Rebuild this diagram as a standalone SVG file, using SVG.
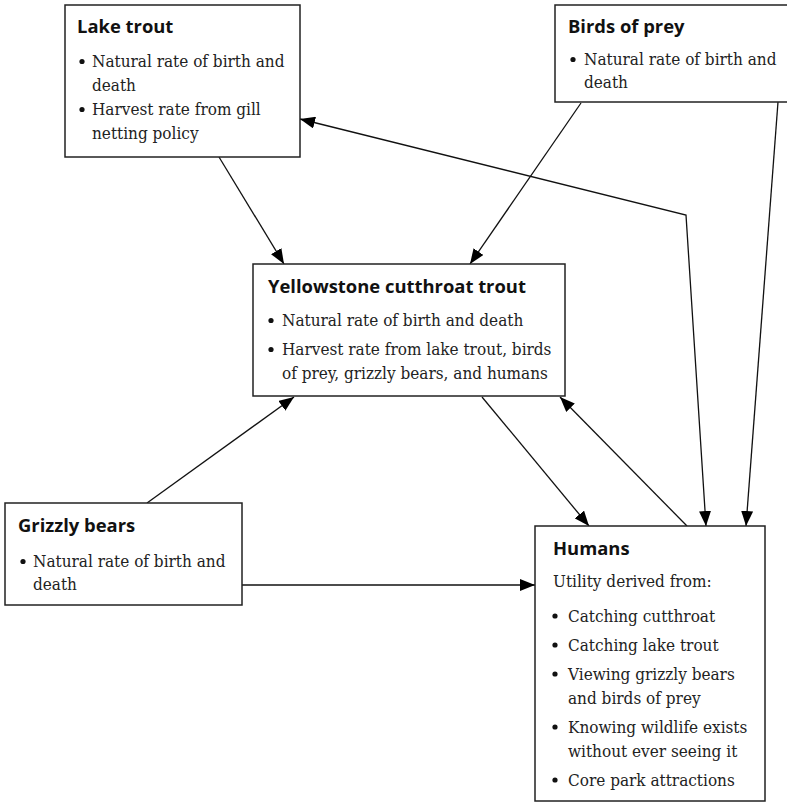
<svg xmlns="http://www.w3.org/2000/svg" width="787" height="803" viewBox="0 0 787 803">
  <style>
    .box { fill: #ffffff; stroke: #222222; stroke-width: 1.5; }
    .title { font-family: "Open Sans", "Noto Sans", sans-serif; font-weight: 700; font-size: 18.4px; fill: #111111; }
    .body { font-family: "DejaVu Serif", serif; font-stretch: condensed; font-size: 17px; fill: #222222; }
    .dot { fill: #111111; }
    .edge { fill: none; stroke: #111111; stroke-width: 1.3; marker-end: url(#arrow); }
    .both { marker-start: url(#arrow); }
  </style>
  <defs>
    <marker id="arrow" markerUnits="userSpaceOnUse" markerWidth="15" markerHeight="12" viewBox="0 0 15 12" refX="15" refY="6" orient="auto-start-reverse">
      <path d="M0,0 L15,6 L0,12 z" fill="#000000"/>
    </marker>
  </defs>

  <!-- connectors -->
  <g id="connectors">
    <path class="edge" d="M219,157 L284,264"/>
    <path class="edge" d="M581,103 L470,264"/>
    <path class="edge" d="M147,503 L294,397"/>
    <path class="edge" d="M482,397 L589,526"/>
    <path class="edge" d="M687,526 L560,397"/>
    <path class="edge" d="M242,585 L535,585"/>
    <path class="edge both" d="M300,119 L686,215 L706,526"/>
    <path class="edge" d="M778,102 L746,526"/>
  </g>

  <!-- Lake trout -->
  <g id="lake-trout">
    <rect class="box" x="65" y="5" width="235" height="152"/>
    <text class="title" x="77" y="33">Lake trout</text>
    <circle class="dot" cx="82" cy="61.5" r="2.6"/>
    <circle class="dot" cx="82" cy="109.5" r="2.6"/>
    <text class="body" x="92" y="67">Natural rate of birth and</text>
    <text class="body" x="92" y="91">death</text>
    <text class="body" x="92" y="115">Harvest rate from gill</text>
    <text class="body" x="92" y="139">netting policy</text>
  </g>

  <!-- Birds of prey -->
  <g id="birds-of-prey">
    <rect class="box" x="555" y="5" width="240" height="97"/>
    <text class="title" x="568" y="33">Birds of prey</text>
    <circle class="dot" cx="573" cy="59.5" r="2.6"/>
    <text class="body" x="584" y="65">Natural rate of birth and</text>
    <text class="body" x="584" y="88">death</text>
  </g>

  <!-- Yellowstone cutthroat trout -->
  <g id="cutthroat-trout">
    <rect class="box" x="253" y="264" width="312" height="132"/>
    <text class="title" x="268" y="293">Yellowstone cutthroat trout</text>
    <circle class="dot" cx="271" cy="320.5" r="2.6"/>
    <circle class="dot" cx="271" cy="349.5" r="2.6"/>
    <text class="body" x="282" y="326">Natural rate of birth and death</text>
    <text class="body" x="282" y="355">Harvest rate from lake trout, birds</text>
    <text class="body" x="282" y="379">of prey, grizzly bears, and humans</text>
  </g>

  <!-- Grizzly bears -->
  <g id="grizzly-bears">
    <rect class="box" x="5" y="503" width="237" height="102"/>
    <text class="title" x="18" y="532">Grizzly bears</text>
    <circle class="dot" cx="23" cy="561.5" r="2.6"/>
    <text class="body" x="33" y="567">Natural rate of birth and</text>
    <text class="body" x="33" y="590">death</text>
  </g>

  <!-- Humans -->
  <g id="humans">
    <rect class="box" x="535" y="526" width="230" height="275"/>
    <text class="title" x="553" y="555">Humans</text>
    <text class="body" x="553" y="587">Utility derived from:</text>
    <circle class="dot" cx="555" cy="616" r="2.6"/>
    <circle class="dot" cx="555" cy="645" r="2.6"/>
    <circle class="dot" cx="555" cy="674" r="2.6"/>
    <circle class="dot" cx="555" cy="727" r="2.6"/>
    <circle class="dot" cx="555" cy="780" r="2.6"/>
    <text class="body" x="568" y="622">Catching cutthroat</text>
    <text class="body" x="568" y="651">Catching lake trout</text>
    <text class="body" x="568" y="680">Viewing grizzly bears</text>
    <text class="body" x="568" y="704">and birds of prey</text>
    <text class="body" x="568" y="733">Knowing wildlife exists</text>
    <text class="body" x="568" y="757">without ever seeing it</text>
    <text class="body" x="568" y="786">Core park attractions</text>
  </g>
</svg>
